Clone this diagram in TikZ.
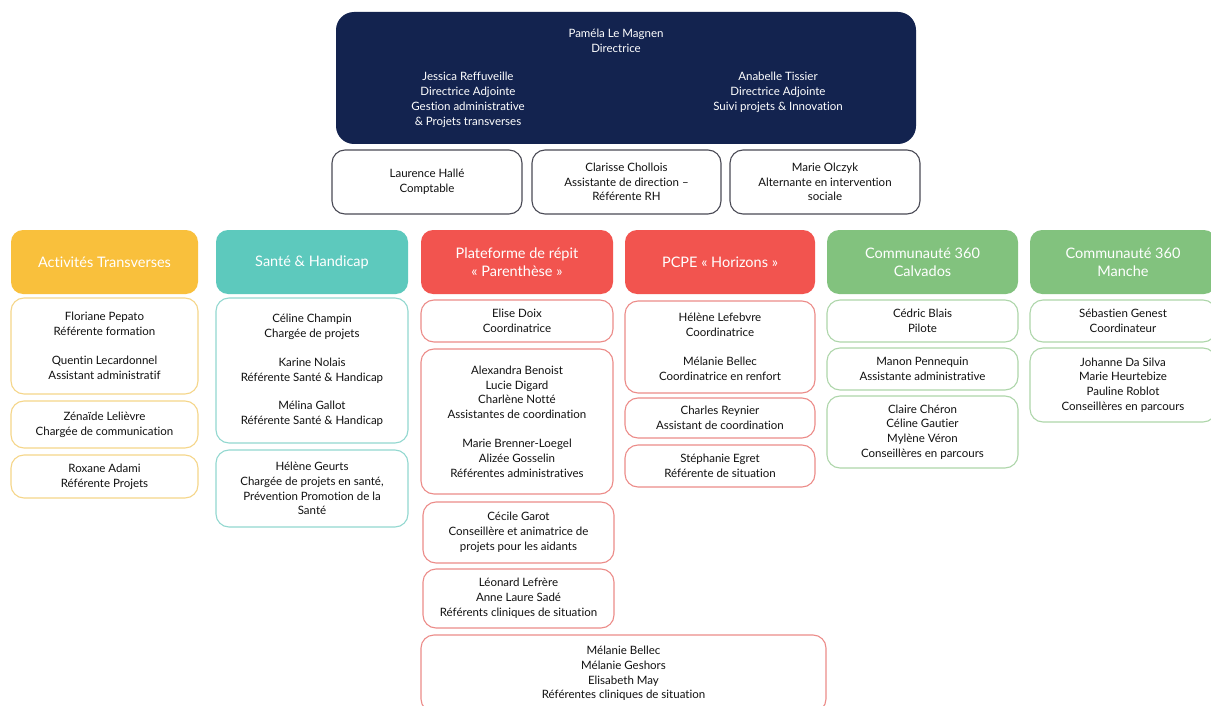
\documentclass[tikz,border=0pt]{standalone}
\usepackage{fontspec}
\setmainfont{Lato}[Ligatures=NoCommon]
\definecolor{navy}{HTML}{13234F}
\definecolor{ylw}{HTML}{F9C03C}
\definecolor{teal}{HTML}{5DC9BD}
\definecolor{rouge}{HTML}{F2544F}
\definecolor{vert}{HTML}{82C27E}
\definecolor{ylwl}{HTML}{F5D68A}
\definecolor{teall}{HTML}{93D8D0}
\definecolor{rougel}{HTML}{EC8C89}
\definecolor{vertl}{HTML}{AED6AA}
\definecolor{gris}{HTML}{4A4A55}
\definecolor{txt}{HTML}{111111}
\begin{document}
\begin{tikzpicture}[x=1pt,y=-1pt,
  txtb/.style={align=center,text=txt,font=\fontsize{11.5}{14.8}\selectfont},
  card/.style={txtb,draw=#1,line width=1.1pt,rounded corners=13pt,fill=white,inner sep=0pt},
  hdr/.style={fill=#1,rounded corners=12pt,minimum height=64,inner sep=0pt,align=center,text=white,font=\fontsize{14.5}{18}\selectfont}]
\useasboundingbox[fill=white] (0,0) rectangle (1211,706);
\node[fill=navy,rounded corners=18pt,minimum width=580,minimum height=132] (dir) at (626,78) {};
\node[align=center,text=white,font=\fontsize{11.5}{14.8}\selectfont] (pam) at (616,40.5) {Paméla Le Magnen\\Directrice};
\node[align=center,text=white,font=\fontsize{11.5}{14.8}\selectfont] (jes) at (468,100) {Jessica Reffuveille\\Directrice Adjointe\\Gestion administrative\\\& Projets transverses};
\node[align=center,text=white,font=\fontsize{11.5}{14.8}\selectfont] (ana) at (778,92.5) {Anabelle Tissier\\Directrice Adjointe\\Suivi projets \& Innovation};
\node[card=gris,minimum width=190,minimum height=64] (hal) at (427,182) {Laurence Hallé\\Comptable};
\node[card=gris,minimum width=189,minimum height=64] (chl) at (626.5,182) {Clarisse Chollois\\Assistante de direction –\\Référente RH};
\node[card=gris,minimum width=190,minimum height=64] (olc) at (825,182) {Marie Olczyk\\Alternante en intervention\\sociale};
\node[hdr=ylw,minimum width=187] (at) at (104.5,262) {Activités Transverses};
\node[hdr=teal,minimum width=192] (sh) at (312,262) {Santé \& Handicap};
\node[hdr=rouge,minimum width=192] (pr) at (517,262) {Plateforme de répit\\« Parenthèse »};
\node[hdr=rouge,minimum width=190] (pc) at (720,262) {PCPE « Horizons »};
\node[hdr=vert,minimum width=191] (cc) at (922.5,262) {Communauté 360\\Calvados};
\node[hdr=vert,minimum width=186] (cm) at (1123,262) {Communauté 360\\Manche};
\node[card=ylwl,minimum width=187,minimum height=96] (flo) at (104.5,346) {Floriane Pepato\\Référente formation\\[14pt]Quentin Lecardonnel\\Assistant administratif};
\node[card=ylwl,minimum width=187,minimum height=47] (zen) at (104.5,424.5) {Zénaïde Lelièvre\\Chargée de communication};
\node[card=ylwl,minimum width=187,minimum height=43] (rox) at (104.5,476.5) {Roxane Adami\\Référente Projets};
\node[card=teall,minimum width=192,minimum height=145] (cel) at (312,370.5) {Céline Champin\\Chargée de projets\\[14pt]Karine Nolais\\Référente Santé \& Handicap\\[14pt]Mélina Gallot\\Référente Santé \& Handicap};
\node[card=teall,minimum width=192,minimum height=77] (hge) at (312,488.5) {Hélène Geurts\\Chargée de projets en santé,\\Prévention Promotion de la\\Santé};
\node[card=rougel,minimum width=192,minimum height=42] (eli) at (517,321) {Elise Doix\\Coordinatrice};
\node[card=rougel,minimum width=192,minimum height=145] (ale) at (517,421.5) {Alexandra Benoist\\Lucie Digard\\Charlène Notté\\Assistantes de coordination\\[14pt]Marie Brenner-Loegel\\Alizée Gosselin\\Référentes administratives};
\node[card=rougel,minimum width=191,minimum height=61] (cec) at (518.5,532.5) {Cécile Garot\\Conseillère et animatrice de\\projets pour les aidants};
\node[card=rougel,minimum width=191,minimum height=59] (leo) at (518.5,598.5) {Léonard Lefrère\\Anne Laure Sadé\\Référents cliniques de situation};
\node[card=rougel,minimum width=405,minimum height=77] (mbg) at (623.5,673.5) {Mélanie Bellec\\Mélanie Geshors\\Elisabeth May\\Référentes cliniques de situation};
\node[card=rougel,minimum width=190,minimum height=92] (hlf) at (720,347) {Hélène Lefebvre\\Coordinatrice\\[14pt]Mélanie Bellec\\Coordinatrice en renfort};
\node[card=rougel,minimum width=190,minimum height=40] (cha) at (720,418) {Charles Reynier\\Assistant de coordination};
\node[card=rougel,minimum width=190,minimum height=42] (ste) at (720,466) {Stéphanie Egret\\Référente de situation};
\node[card=vertl,minimum width=191,minimum height=42] (ced) at (922.5,321) {Cédric Blais\\Pilote};
\node[card=vertl,minimum width=191,minimum height=42] (man) at (922.5,369) {Manon Pennequin\\Assistante administrative};
\node[card=vertl,minimum width=191,minimum height=72] (chr) at (922.5,432) {Claire Chéron\\Céline Gautier\\Mylène Véron\\Conseillères en parcours};
\node[card=vertl,minimum width=186,minimum height=42] (seb) at (1123,321) {Sébastien Genest\\Coordinateur};
\node[card=vertl,minimum width=186,minimum height=74] (joh) at (1123,385) {Johanne Da Silva\\Marie Heurtebize\\Pauline Roblot\\Conseillères en parcours};
\end{tikzpicture}
\end{document}
